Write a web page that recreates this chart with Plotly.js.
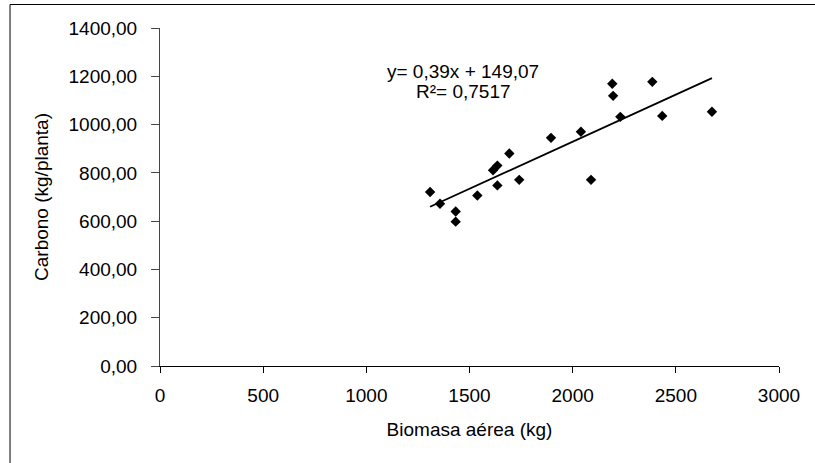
<!DOCTYPE html>
<html>
<head>
<meta charset="utf-8">
<script src="https://cdn.plot.ly/plotly-3.0.1.min.js"></script>
<style>
html,body{margin:0;padding:0;background:#fff;}
#chart{width:815px;height:463px;}
</style>
</head>
<body>
<div id="chart"></div>
<script>
// Biomasa aérea (kg)
const biomasa = [1309, 1357, 1433, 1433, 1538, 1614, 1635, 1693, 1635, 1741, 1895, 2040, 2089, 2192, 2196, 2231, 2386, 2434, 2675];
// Carbono (kg/planta)
const carbono = [721, 672, 640, 598, 706, 811, 830, 880, 748, 771, 945, 970, 771, 1169, 1119, 1032, 1177, 1036, 1053];
// Regression line reported on chart
const slope = 0.39;
const intercept = 149.07;
const eqText = "y= 0,39x + 149,07";
const r2Text = "R²= 0,7517";
const yTickVals = [0, 200, 400, 600, 800, 1000, 1200, 1400];
const xTickVals = [0, 500, 1000, 1500, 2000, 2500, 3000];
const xTitle = "Biomasa aérea (kg)";
const yTitle = "Carbono (kg/planta)";

const xMin = Math.min(...biomasa), xMax = Math.max(...biomasa);
const lineX = [xMin, xMax];
const lineY = lineX.map(v => slope * v + intercept);

const font = "Liberation Sans, Arial, sans-serif";
const fs = 19;

const traces = [
  {x: lineX, y: lineY, mode: 'lines', type: 'scatter',
   line: {color: '#000', width: 1.8}, hoverinfo: 'skip', showlegend: false},
  {x: biomasa, y: carbono, mode: 'markers', type: 'scatter',
   marker: {symbol: 'diamond', size: 8, color: '#000'}, showlegend: false}
];

const layout = {
  width: 815, height: 463,
  margin: {l: 160, r: 36, t: 28, b: 97},
  paper_bgcolor: '#fff', plot_bgcolor: '#fff',
  separators: ', ',
  font: {family: font, size: fs, color: '#000'},
  showlegend: false,
  xaxis: {
    range: [0, 3000], tickvals: xTickVals, tickformat: 'd',
    showgrid: false, zeroline: false, showline: true, linecolor: '#000', linewidth: 1,
    ticks: 'outside', ticklen: 6, tickcolor: '#000', tickwidth: 1,
    ticklabelstandoff: 6,
    tickfont: {family: font, size: fs, color: '#000'},
    title: {text: xTitle, font: {family: font, size: fs, color: '#000'}, standoff: 17},
    automargin: false,
    fixedrange: true
  },
  yaxis: {
    range: [0, 1400], tickvals: yTickVals, tickformat: '.2f',
    showgrid: false, zeroline: false, showline: true, linecolor: '#444', linewidth: 1,
    ticks: 'outside', ticklen: 8, tickcolor: '#444', tickwidth: 1,
    ticklabelstandoff: 10,
    tickfont: {family: font, size: fs, color: '#000'},
    title: {text: yTitle, font: {family: font, size: fs, color: '#000'}, standoff: 14},
    automargin: false,
    fixedrange: true
  },
  annotations: [
    {x: 1470, y: 1221, xref: 'x', yref: 'y', text: eqText, showarrow: false,
     font: {family: font, size: fs, color: '#000'}},
    {x: 1470, y: 1136, xref: 'x', yref: 'y', text: r2Text, showarrow: false,
     font: {family: font, size: fs, color: '#000'}}
  ],
  shapes: [
    {type: 'line', xref: 'paper', yref: 'paper', x0: -0.2423, x1: -0.2423, y0: -0.5, y1: 1.0695,
     line: {color: '#000', width: 1}},
    {type: 'line', xref: 'paper', yref: 'paper', x0: -0.2423, x1: 1.2, y0: 1.0695, y1: 1.0695,
     line: {color: '#000', width: 1}}
  ]
};

Plotly.newPlot('chart', traces, layout, {displayModeBar: false, staticPlot: true});
</script>
</body>
</html>
